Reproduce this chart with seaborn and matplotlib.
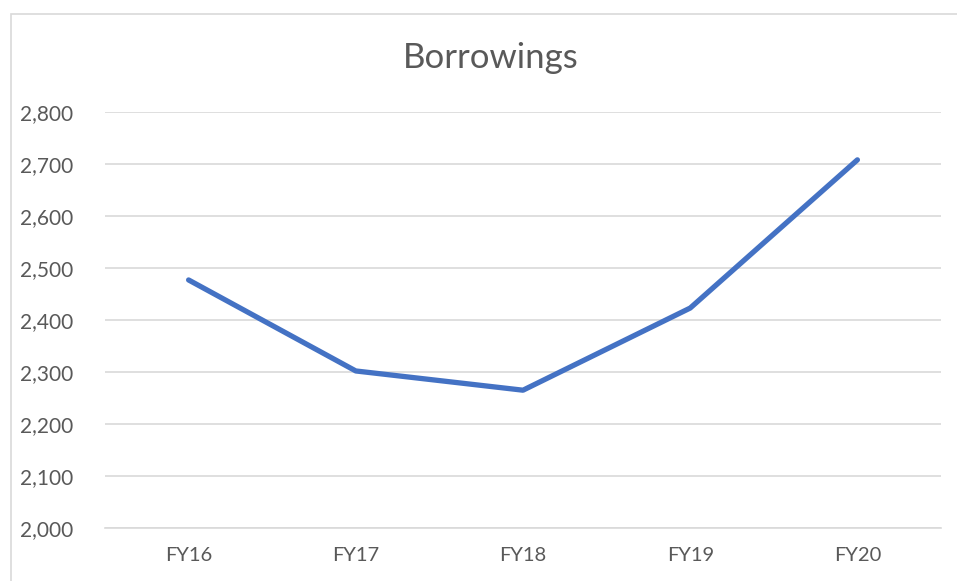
import matplotlib
matplotlib.use("Agg")
import matplotlib.pyplot as plt
import seaborn as sns
import pandas as pd
from matplotlib.ticker import FuncFormatter, MultipleLocator
from matplotlib.patches import Rectangle

categories = ["FY16", "FY17", "FY18", "FY19", "FY20"]
borrowings = [2477, 2302, 2265, 2423, 2708]
title = "Borrowings"

df = pd.DataFrame({"year": categories, "value": borrowings})

sns.set_theme(style="white")
plt.rcParams['font.family'] = ['Lato', 'DejaVu Sans']

fig = plt.figure(figsize=(9.57, 5.81), dpi=100)
ax = fig.add_axes([105/957, 1-528/581, (941-105)/957, (528-112)/581])

df["x"] = range(len(categories))
sns.lineplot(data=df, x="x", y="value", ax=ax, color="#4472C4", linewidth=3.8,
             solid_capstyle="round", solid_joinstyle="round")

ax.set_xlim(-0.5, len(categories) - 0.5)
ax.set_ylim(2000, 2800)
ax.set_xticks(range(len(categories)))
ax.set_xticklabels(categories)
ax.yaxis.set_major_locator(MultipleLocator(100))
ax.yaxis.set_major_formatter(FuncFormatter(lambda v, p: f"{int(v):,}"))
ax.grid(axis="y", color="#d9d9d9", linewidth=1.2)
ax.set_axisbelow(True)
for s in ["top", "right", "left"]:
    ax.spines[s].set_visible(False)
ax.spines["bottom"].set_color("#d9d9d9")
ax.spines["bottom"].set_linewidth(1.2)
ax.tick_params(axis="y", length=0, pad=23, labelsize=15, labelcolor="#595959")
ax.tick_params(axis="x", length=0, pad=14, labelsize=14.5, labelcolor="#595959")
ax.set_xlabel("")
ax.set_ylabel("")

fig.text(491/957, 1-58/581, title, ha="center", va="center", fontsize=25, color="#595959")

fig.patches.append(Rectangle((11/957, -0.1), 1.2, 1-14/581+0.1, transform=fig.transFigure,
                             fill=False, edgecolor="#d9d9d9", linewidth=1.2))

fig.savefig("out.png", dpi=100)
